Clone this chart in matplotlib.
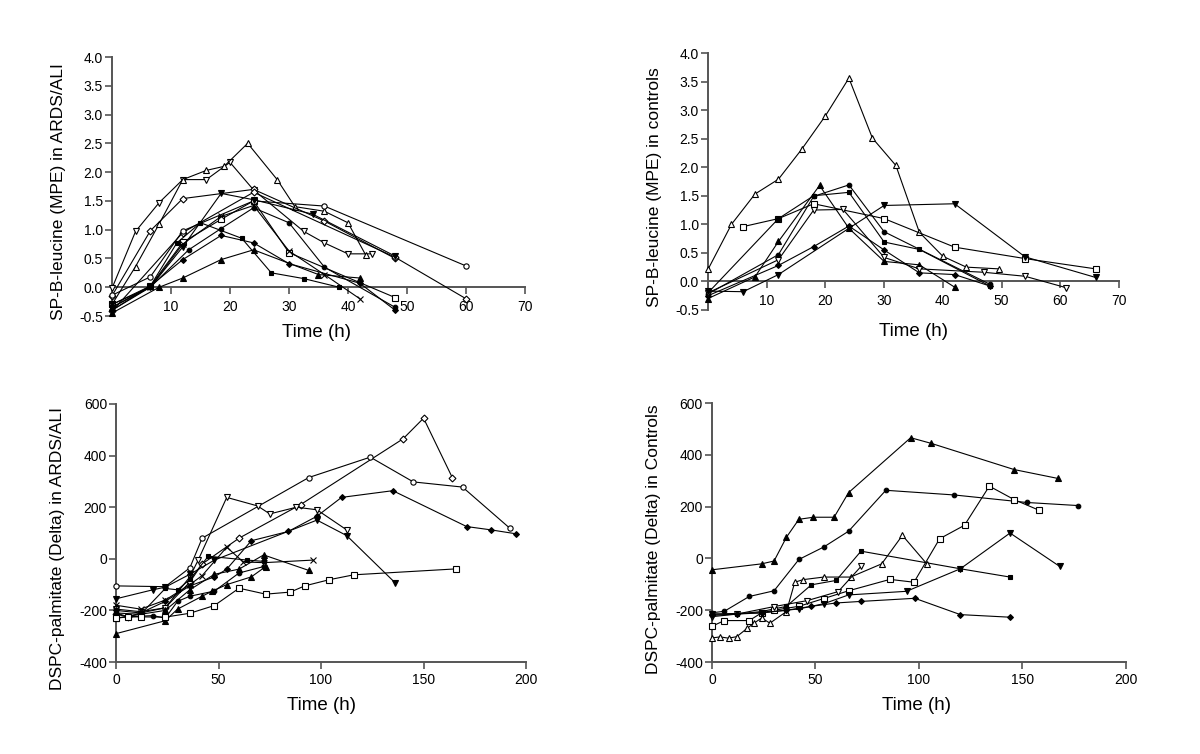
import matplotlib
matplotlib.use('Agg')
import matplotlib.pyplot as plt

plt.rcParams['font.family'] = ['Liberation Sans', 'DejaVu Sans']
plt.rcParams['axes.unicode_minus'] = False

# ---- SP-B-leucine, ARDS/ALI (top left) ----
al_vo_t = [0, 4, 8, 12, 16, 20, 24, 32.5, 36, 40, 44]
al_vo_v = [-0.02, 0.97, 1.47, 1.87, 1.87, 2.17, 1.69, 0.97, 0.77, 0.58, 0.58]
al_to_t = [0, 4, 8, 12, 16, 19, 23, 28, 31, 36, 40, 43]
al_to_v = [-0.3, 0.36, 1.1, 1.87, 2.03, 2.1, 2.5, 1.87, 1.4, 1.32, 1.12, 0.56]
al_da_t = [0, 6.5, 12, 24, 36, 48]
al_da_v = [-0.15, 0.98, 1.54, 1.7, 1.15, 0.5]
al_db_t = [0, 12, 24, 48, 60]
al_db_v = [-0.42, 0.95, 1.65, 0.52, -0.2]
al_co_t = [0, 6.5, 12, 24, 36, 60]
al_co_v = [-0.14, 0.18, 0.98, 1.5, 1.41, 0.37]
al_so_t = [0, 6.5, 12, 18.5, 24, 30, 48]
al_so_v = [-0.3, 0.02, 0.78, 1.18, 1.5, 0.6, -0.18]
al_x_t = [0, 6.5, 12, 18.5, 24, 30, 36, 42]
al_x_v = [-0.35, 0.0, 0.75, 1.23, 1.42, 0.63, 0.22, -0.2]
al_vf_t = [0, 6.5, 12, 18.5, 24, 34, 48]
al_vf_v = [-0.3, 0.0, 0.7, 1.63, 1.52, 1.27, 0.54]
al_tf_t = [0, 8, 12, 18.5, 24, 35, 42]
al_tf_v = [-0.45, 0.0, 0.16, 0.48, 0.65, 0.22, 0.16]
al_df_t = [0, 6.5, 12, 18.5, 24, 30, 42, 48]
al_df_v = [-0.4, 0.02, 0.48, 0.9, 0.77, 0.41, 0.07, -0.4]
al_sf_t = [0, 6.5, 11, 15, 22, 27, 32.5, 38.5]
al_sf_v = [-0.35, 0.02, 0.77, 1.12, 0.85, 0.25, 0.15, 0.0]
al_cf_t = [0, 6.5, 13, 18.5, 24, 30, 36, 48]
al_cf_v = [-0.4, 0.0, 0.65, 1.02, 1.38, 1.12, 0.35, -0.35]

# ---- SP-B-leucine, controls (top right) ----
cl_to_t = [0, 4, 8, 12, 16, 20, 24, 28, 32, 36, 40, 44, 49.5]
cl_to_v = [0.21, 1.0, 1.53, 1.79, 2.32, 2.9, 3.56, 2.51, 2.03, 0.86, 0.44, 0.25, 0.22]
cl_so_t = [6, 12, 18, 30, 42, 54, 66]
cl_so_v = [0.96, 1.1, 1.36, 1.1, 0.6, 0.4, 0.22]
cl_sf_t = [0, 12, 18, 24, 30, 36, 48]
cl_sf_v = [-0.2, 1.1, 1.5, 1.56, 0.69, 0.56, -0.08]
cl_cf_t = [0, 12, 18, 24, 30, 48]
cl_cf_v = [-0.22, 0.47, 1.49, 1.69, 0.87, -0.05]
cl_df_t = [0, 12, 18, 24, 30, 36, 42, 48]
cl_df_v = [-0.25, 0.28, 0.61, 0.97, 0.55, 0.15, 0.12, -0.08]
cl_tf_t = [0, 8, 12, 19, 24, 30, 36, 42]
cl_tf_v = [-0.3, 0.08, 0.7, 1.68, 0.93, 0.35, 0.29, -0.1]
cl_vo_t = [0, 12, 18, 23, 30, 36, 47, 54, 61]
cl_vo_v = [-0.2, 0.38, 1.25, 1.26, 0.42, 0.22, 0.16, 0.09, -0.11]
cl_vf_t = [0, 6, 12, 24, 30, 42, 54, 66]
cl_vf_v = [-0.17, -0.18, 0.12, 0.93, 1.33, 1.36, 0.43, 0.07]

# ---- DSPC-palmitate, ARDS/ALI (bottom left) ----
ap_do_t = [0, 6, 12, 24, 36, 42, 60, 90, 140, 150, 164]
ap_do_v = [-215, -225, -210, -190, -90, -20, 80, 210, 465, 545, 315]
ap_co_t = [0, 24, 36, 42, 94, 124, 145, 169, 192]
ap_co_v = [-105, -108, -35, 80, 315, 394, 298, 278, 119]
ap_vo_t = [0, 12, 24, 36, 40, 54, 69, 75, 88, 98, 112.5]
ap_vo_v = [-195, -205, -190, -70, -6, 238, 205, 174, 200, 190, 112]
ap_vf_t = [0, 18, 24, 36, 48, 98, 112.5, 136]
ap_vf_v = [-155, -120, -110, -60, -5, 150, 90, -92]
ap_df_t = [0, 12, 24, 36, 48, 54, 66, 84, 98, 110, 135, 171, 183, 195]
ap_df_v = [-200, -210, -165, -105, -70, -40, 70, 106, 165, 238, 264, 125, 112, 97]
ap_sf_t = [0, 12, 24, 30, 36, 45, 64, 72]
ap_sf_v = [-210, -215, -115, -120, -80, 10, -5, -10]
ap_x_t = [0, 12, 24, 36, 42, 54, 62, 72, 96]
ap_x_v = [-180, -195, -160, -100, -65, 45, -12, -15, -5]
ap_ta_t = [0, 24, 30, 42, 47, 54, 66, 73]
ap_ta_v = [-290, -240, -195, -145, -125, -100, -70, -30]
ap_tb_t = [0, 12, 24, 36, 48, 60, 72, 94]
ap_tb_v = [-230, -215, -200, -120, -60, -40, 15, -45]
ap_cf_t = [0, 6, 18, 24, 30, 36, 48, 60, 72]
ap_cf_v = [-210, -225, -220, -230, -165, -145, -125, -55, -30]
ap_so_t = [0, 6, 12, 24, 36, 48, 60, 73, 85, 92, 104, 116, 166]
ap_so_v = [-230, -225, -225, -226, -211, -181, -114, -137, -129, -105, -81, -62, -39]

# ---- DSPC-palmitate, controls (bottom right) ----
cp_tf_t = [0, 24, 30, 36, 42, 49, 59, 66, 96, 106, 146, 167]
cp_tf_v = [-44, -21, -10, 82, 151, 159, 159, 254, 466, 444, 343, 309]
cp_cf_t = [0, 6, 18, 30, 42, 54, 66, 84, 117, 152, 177]
cp_cf_v = [-210, -204, -147, -125, -4, 44, 105, 263, 245, 216, 204]
cp_sf_t = [0, 12, 24, 30, 36, 48, 60, 72, 120, 144]
cp_sf_v = [-215, -215, -205, -195, -185, -102, -85, 28, -40, -72]
cp_to_t = [0, 4, 8, 12, 17, 20.5, 24, 28, 36, 40, 44, 54, 67, 82, 92, 104]
cp_to_v = [-307, -303, -308, -302, -270, -249, -230, -250, -205, -92, -82, -72, -72, -21, 89, -23]
cp_so_t = [0, 6, 18, 24, 30, 42, 54, 66, 86, 97.6, 110, 122, 134, 146, 158]
cp_so_v = [-262, -240, -240, -210, -200, -185, -155, -125, -81, -92, 76, 128, 279, 227, 186]
cp_vo_t = [0, 12, 30, 46, 61, 72]
cp_vo_v = [-225, -215, -186, -163, -128, -31]
cp_vf_t = [0, 24, 36, 42, 54, 66, 94, 120, 144, 168]
cp_vf_v = [-215, -210, -200, -195, -175, -141, -127, -40, 98, -31]
cp_df_t = [0, 12, 24, 36, 48, 60, 72, 98, 120, 144]
cp_df_v = [-220, -215, -210, -200, -185, -172, -166, -154, -217, -227]

# marker styles: (marker, filled, size)
STY = {
    'vo': ('v', False, 4.6), 'to': ('^', False, 4.6), 'do': ('D', False, 3.5),
    'co': ('o', False, 3.8), 'so': ('s', False, 3.8), 'x': ('x', False, 5),
    'vf': ('v', True, 4.3), 'tf': ('^', True, 4.3), 'df': ('D', True, 3.0),
    'sf': ('s', True, 3.3), 'cf': ('o', True, 3.3),
}

panels = [
    [(al_vo_t, al_vo_v, 'vo'), (al_to_t, al_to_v, 'to'), (al_da_t, al_da_v, 'do'),
     (al_db_t, al_db_v, 'do'), (al_co_t, al_co_v, 'co'), (al_so_t, al_so_v, 'so'),
     (al_x_t, al_x_v, 'x'), (al_vf_t, al_vf_v, 'vf'), (al_tf_t, al_tf_v, 'tf'),
     (al_df_t, al_df_v, 'df'), (al_sf_t, al_sf_v, 'sf'), (al_cf_t, al_cf_v, 'cf')],
    [(cl_to_t, cl_to_v, 'to'), (cl_so_t, cl_so_v, 'so'), (cl_sf_t, cl_sf_v, 'sf'),
     (cl_cf_t, cl_cf_v, 'cf'), (cl_df_t, cl_df_v, 'df'), (cl_tf_t, cl_tf_v, 'tf'),
     (cl_vo_t, cl_vo_v, 'vo'), (cl_vf_t, cl_vf_v, 'vf')],
    [(ap_do_t, ap_do_v, 'do'), (ap_co_t, ap_co_v, 'co'), (ap_vo_t, ap_vo_v, 'vo'),
     (ap_vf_t, ap_vf_v, 'vf'), (ap_df_t, ap_df_v, 'df'), (ap_sf_t, ap_sf_v, 'sf'),
     (ap_x_t, ap_x_v, 'x'), (ap_ta_t, ap_ta_v, 'tf'), (ap_tb_t, ap_tb_v, 'tf'),
     (ap_cf_t, ap_cf_v, 'cf'), (ap_so_t, ap_so_v, 'so')],
    [(cp_tf_t, cp_tf_v, 'tf'), (cp_cf_t, cp_cf_v, 'cf'), (cp_sf_t, cp_sf_v, 'sf'),
     (cp_to_t, cp_to_v, 'to'), (cp_so_t, cp_so_v, 'so'), (cp_vo_t, cp_vo_v, 'vo'),
     (cp_vf_t, cp_vf_v, 'vf'), (cp_df_t, cp_df_v, 'df')],
]

ylabels = ['SP-B-leucine (MPE) in ARDS/ALI', 'SP-B-leucine (MPE) in controls',
           'DSPC-palmitate (Delta) in ARDS/ALI', 'DSPC-palmitate (Delta) in Controls']

rects = [[0.0933, 0.5809, 0.3442, 0.3435],
         [0.5900, 0.5889, 0.3425, 0.3408],
         [0.0967, 0.1220, 0.3417, 0.3422],
         [0.5933, 0.1220, 0.3450, 0.3435]]
ylab_pos = [(-0.112, 0.48), (-0.113, 0.48), (-0.124, 0.44), (-0.124, 0.475)]
xlab_pos = [(0.496, -0.03), (0.50, -0.05), (0.50, -0.135), (0.495, -0.135)]

spine_c = '#555555'
fig = plt.figure(figsize=(12, 7.54), dpi=100)

for i in range(4):
    ax = fig.add_axes(rects[i])
    for t, v, key in panels[i]:
        m, filled, ms = STY[key]
        ax.plot(t, v, color='black', lw=0.8, marker=m, ms=ms,
                mfc='black' if filled else 'white', mec='black', mew=0.8,
                clip_on=False, zorder=3)
    for s in ['top', 'right']:
        ax.spines[s].set_visible(False)
    for s in ['left', 'bottom']:
        ax.spines[s].set_color(spine_c)
        ax.spines[s].set_linewidth(1.4)
    ax.tick_params(colors=spine_c, width=1.2, length=5, labelsize=10,
                   labelcolor='black')
    ax.tick_params(axis='y', pad=1.5)
    if i < 2:
        ax.set_xlim(0, 70)
        ax.set_ylim(-0.5, 4.0)
        ax.spines['bottom'].set_position(('data', 0))
        ax.set_xticks([10, 20, 30, 40, 50, 60, 70])
        ax.set_yticks([-0.5, 0, 0.5, 1.0, 1.5, 2.0, 2.5, 3.0, 3.5, 4.0])
        ax.set_yticklabels(['%.1f' % y for y in ax.get_yticks()])
        ax.tick_params(axis='x', pad=4)
    else:
        ax.set_xlim(0, 200)
        ax.set_ylim(-400, 600)
        ax.set_xticks([0, 50, 100, 150, 200])
        ax.set_yticks([-400, -200, 0, 200, 400, 600])
        ax.tick_params(axis='x', pad=3)
    ax.set_ylabel(ylabels[i], fontsize=12.5)
    ax.yaxis.set_label_coords(*ylab_pos[i])
    ax.set_xlabel('Time (h)', fontsize=13.5)
    ax.xaxis.set_label_coords(*xlab_pos[i])

fig.savefig('out.png', dpi=100)
